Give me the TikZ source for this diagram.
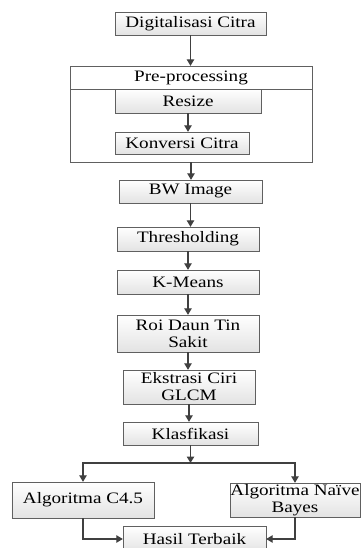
\documentclass[tikz,border=0pt]{standalone}
\usepackage{fontspec}
\setmainfont{Liberation Serif}[FakeStretch=1.2]
\usetikzlibrary{arrows.meta,shadows}

\tikzset{
  stepbox/.style={draw=gray!75!black, top color=white, bottom color=gray!22,
    drop shadow={shadow xshift=1.2pt, shadow yshift=-1.2pt, opacity=0.45, fill=gray!70},
    inner sep=0pt, align=center, font=\fontsize{16}{17}\selectfont},
  frame/.style={draw=gray!75!black, fill=white, inner sep=0pt,
    font=\fontsize{16}{17}\selectfont},
  flow/.style={draw=black!75, line width=1.1pt, -{Triangle[length=6.5pt,width=7.5pt]}},
}

\begin{document}
\begin{tikzpicture}[x=1bp,y=1bp]
  \useasboundingbox (0,0) rectangle (361,-548);
  % Top
  \node[stepbox, minimum width=151bp, minimum height=23bp] (digi) at (190.5,-23.5) {Digitalisasi Citra};
  % Pre-processing frame
  \node[frame, drop shadow={shadow xshift=1.2pt, shadow yshift=-1.2pt, opacity=0.45, fill=gray!70},
    minimum width=242bp, minimum height=96bp] (prep) at (191,-114) {};
  \node[frame, minimum width=242bp, minimum height=23bp, anchor=north] (prephead) at (prep.north) {Pre-processing};
  \node[stepbox, minimum width=146bp, minimum height=24bp] (resize) at (188,-101) {Resize};
  \node[stepbox, minimum width=134bp, minimum height=22bp] (konv) at (182,-143) {Konversi Citra};
  % Main column
  \node[stepbox, minimum width=143bp, minimum height=23bp] (bw) at (190.5,-191.5) {BW Image};
  \node[stepbox, minimum width=142bp, minimum height=24bp] (thr) at (188,-239) {Thresholding};
  \node[stepbox, minimum width=142bp, minimum height=24bp] (kmeans) at (188,-282) {K-Means};
  \node[stepbox, minimum width=142bp, minimum height=37bp] (roi) at (188,-333.5) {Roi Daun Tin\\Sakit};
  \node[stepbox, minimum width=132bp, minimum height=34bp] (glcm) at (189,-387) {Ekstrasi Ciri\\GLCM};
  \node[stepbox, minimum width=135bp, minimum height=23bp] (klas) at (190.5,-433.5) {Klasfikasi};
  % Branches
  \node[stepbox, minimum width=142bp, minimum height=36bp] (c45) at (83,-500) {Algoritma C4.5};
  \node[stepbox, minimum width=130bp, minimum height=34bp] (nb) at (295,-500) {Algoritma Naïve\\Bayes};
  \node[stepbox, minimum width=143bp, minimum height=26bp] (hasil) at (194.5,-539) {Hasil Terbaik};
  \coordinate (split) at (klas.south |- 0,-463);
  % Arrows
  \draw[flow] (digi.south) -- (digi.south |- prep.north);
  \draw[flow] (resize.south) -- (resize.south |- konv.north);
  \draw[flow] (prep.south) -- (prep.south |- bw.north);
  \draw[flow] (bw.south) -- (bw.south |- thr.north);
  \draw[flow] (thr.south) -- (thr.south |- kmeans.north);
  \draw[flow] (kmeans.south) -- (kmeans.south |- roi.north);
  \draw[flow] (roi.south) -- (roi.south |- glcm.north);
  \draw[flow] (glcm.south) -- (glcm.south |- klas.north);
  \draw[flow] (klas.south) -- (split);
  \draw[flow] (split) -| (c45.north);
  \draw[flow] (split) -| (nb.north);
  \draw[flow] (c45.south) |- (hasil.west);
  \draw[flow] (nb.south) |- (hasil.east);
\end{tikzpicture}
\end{document}
